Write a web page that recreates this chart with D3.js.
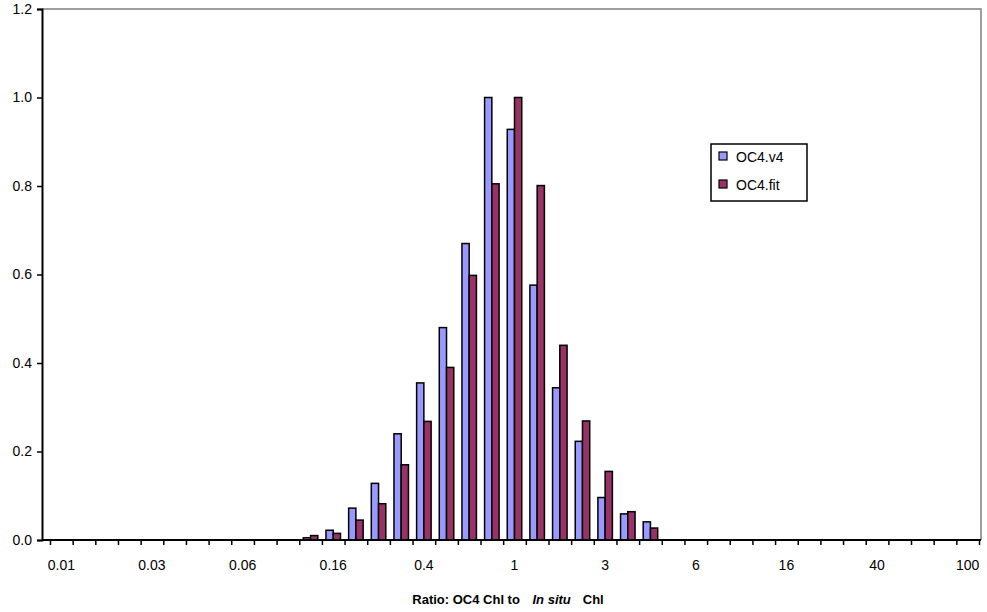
<!DOCTYPE html>
<html>
<head>
<meta charset="utf-8">
<script src="https://cdn.jsdelivr.net/npm/d3@7"></script>
<style>
body { margin: 0; background: #fff; }
text { font-family: "Liberation Sans", Arial, sans-serif; fill: #000; }
.tick text { font-size: 14px; }
</style>
</head>
<body>
<div id="chart"></div>
<script>
// ratio bins (bin centres, 10 per decade)
var bins = [0.010, 0.013, 0.016, 0.020, 0.025, 0.032, 0.040, 0.050, 0.063, 0.079,
            0.100, 0.126, 0.158, 0.200, 0.251, 0.316, 0.398, 0.501, 0.631, 0.794,
            1.000, 1.259, 1.585, 1.995, 2.512, 3.162, 3.981, 5.012, 6.310, 7.943,
            10.00, 12.59, 15.85, 19.95, 25.12, 31.62, 39.81, 50.12, 63.10, 79.43, 100.0];
// only every 4th bin gets a label
var tickLabels = ["0.01", "0.03", "0.06", "0.16", "0.4", "1", "3", "6", "16", "40", "100"];
var seriesNames = ["OC4.v4", "OC4.fit"];
var oc4v4 = [0, 0, 0, 0, 0, 0, 0, 0, 0, 0,
             0, 0.005, 0.022, 0.072, 0.128, 0.240, 0.355, 0.480, 0.670, 1.000,
             0.928, 0.576, 0.344, 0.223, 0.096, 0.059, 0.041, 0, 0, 0,
             0, 0, 0, 0, 0, 0, 0, 0, 0, 0, 0];
var oc4fit = [0, 0, 0, 0, 0, 0, 0, 0, 0, 0,
              0, 0.010, 0.015, 0.045, 0.082, 0.170, 0.268, 0.390, 0.598, 0.805,
              1.000, 0.801, 0.440, 0.269, 0.155, 0.064, 0.027, 0, 0, 0,
              0, 0, 0, 0, 0, 0, 0, 0, 0, 0, 0];
var colors = ["#9999ff", "#993366"];

var width = 987, height = 612;
// plot box (note: "top" is reserved on window, so use pTop etc.)
var pLeft = 42, pRight = 981, pTop = 9, pBottom = 540;
var catLeft = 50, catRight = 979;

var svg = d3.select("#chart").append("svg")
            .attr("width", width)
            .attr("height", height);

var idx = d3.range(bins.length);
var x0 = d3.scaleBand().domain(idx).range([catLeft, catRight])
           .paddingInner(0.36).paddingOuter(0.18);
var x1 = d3.scaleBand().domain(seriesNames).range([0, x0.bandwidth()]);
// category boundaries for tick marks
var xb = d3.scaleLinear().domain([0, bins.length]).range([catLeft, catRight]);
var y = d3.scaleLinear().domain([0, 1.2]).range([pBottom, pTop]);

// plot area border (top/right grey)
svg.append("path")
   .attr("d", "M" + pLeft + "," + pTop + "H" + pRight + "V" + pBottom)
   .attr("fill", "none")
   .attr("stroke", "#808080")
   .attr("stroke-width", 1.5);

var rows = idx.map(function(i) {
  return { i: i, vals: [oc4v4[i], oc4fit[i]] };
});

var groups = svg.selectAll("g.cat").data(rows).enter()
                .append("g").attr("class", "cat")
                .attr("transform", function(d) { return "translate(" + x0(d.i) + ",0)"; });

groups.selectAll("rect")
      .data(function(d) {
        return d.vals.map(function(v, s) { return { s: s, v: v }; })
                     .filter(function(e) { return e.v > 0; });
      })
      .enter().append("rect")
      .attr("x", function(d) { return x1(seriesNames[d.s]); })
      .attr("width", x1.bandwidth())
      .attr("y", function(d) { return y(d.v); })
      .attr("height", function(d) { return pBottom - y(d.v); })
      .attr("fill", function(d) { return colors[d.s]; })
      .attr("stroke", "#000")
      .attr("stroke-width", 1.5);

// y axis
var yAxis = svg.append("g")
   .attr("transform", "translate(" + pLeft + ",0)")
   .call(d3.axisLeft(y).tickValues([0, 0.2, 0.4, 0.6, 0.8, 1.0, 1.2])
           .tickFormat(d3.format(".1f")).tickSize(5).tickPadding(5));
yAxis.select(".domain").attr("stroke-width", 2);
yAxis.selectAll(".tick line").attr("stroke-width", 1.5);

// x axis line + tick marks between categories
svg.append("line")
   .attr("x1", pLeft).attr("x2", pRight)
   .attr("y1", pBottom).attr("y2", pBottom)
   .attr("stroke", "#000").attr("stroke-width", 2);
var xTicks = svg.append("g")
   .attr("transform", "translate(0," + pBottom + ")")
   .call(d3.axisBottom(xb).tickValues(d3.range(bins.length + 1))
           .tickFormat("").tickSizeInner(5).tickSizeOuter(0));
xTicks.select(".domain").remove();
xTicks.selectAll(".tick line").attr("stroke-width", 1.5);

// x labels at category centres
var labelIdx = idx.filter(function(i) { return i % 4 === 0; });
var xLabels = svg.append("g")
   .attr("transform", "translate(0," + pBottom + ")")
   .call(d3.axisBottom(x0).tickValues(labelIdx)
           .tickFormat(function(i) { return tickLabels[i / 4]; })
           .tickSize(0).tickPadding(20));
xLabels.select(".domain").remove();

// axis title
var title = svg.append("text")
   .attr("x", 508)
   .attr("y", 604)
   .attr("text-anchor", "middle")
   .style("font-size", "13px")
   .style("font-weight", "bold");
title.append("tspan").text("Ratio: OC4 Chl to ");
title.append("tspan").style("font-style", "italic").attr("dx", 9).text("In situ");
title.append("tspan").attr("dx", 12).text("Chl");

// legend
var lg = svg.append("g").attr("transform", "translate(711,144)");
lg.append("rect")
  .attr("width", 96).attr("height", 57)
  .attr("fill", "#fff").attr("stroke", "#000").attr("stroke-width", 1.5);
seriesNames.forEach(function(name, s) {
  lg.append("rect")
    .attr("x", 8).attr("y", 8 + s * 28)
    .attr("width", 8).attr("height", 8)
    .attr("fill", colors[s]).attr("stroke", "#000").attr("stroke-width", 1.2);
  lg.append("text")
    .attr("x", 25).attr("y", 18 + s * 28)
    .style("font-size", "14px")
    .text(name);
});
</script>
</body>
</html>
